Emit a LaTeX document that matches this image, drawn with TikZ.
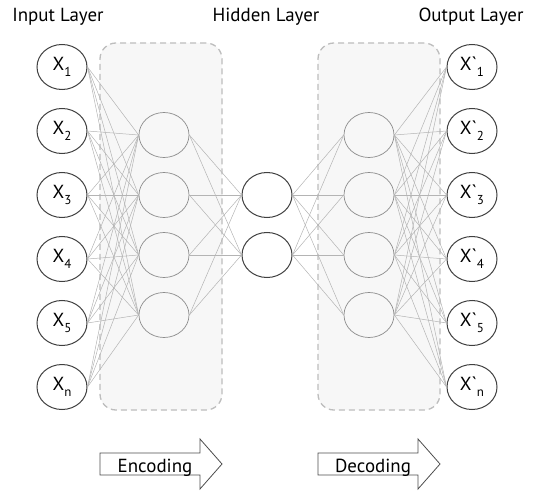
\documentclass[tikz,border=0pt]{standalone}
\usepackage{fontspec}
\setmainfont{PT Sans}
\usetikzlibrary{shapes.geometric}

\definecolor{linkgray}{HTML}{B4B4B4}
\definecolor{boxfill}{HTML}{F7F7F7}
\definecolor{boxline}{HTML}{BDBDBD}

\newcommand{\subidx}[1]{\raisebox{-6bp}{\fontsize{13}{13}\selectfont #1}}
\newcommand{\xin}[1]{X\subidx{#1}}
\newcommand{\xout}[1]{X\textasciigrave\subidx{#1}}

\begin{document}
\begin{tikzpicture}[
    x=1bp, y=-1bp,
    font=\fontsize{19}{22}\selectfont,
    unit/.style={draw=black!75, fill=white, ellipse, minimum width=50bp,
                 minimum height=45bp, inner sep=0pt, line width=1bp},
    inner/.style={draw=black!45, ellipse, minimum width=50bp,
                  minimum height=45bp, inner sep=0pt, line width=0.7bp},
    groupbox/.style={draw=boxline, fill=boxfill, dash pattern=on 6bp off 4bp,
                     line width=1.3bp, rounded corners=16bp,
                     minimum width=122bp, minimum height=367bp},
    link/.style={draw=linkgray, line width=0.5bp},
    flow/.style={draw=black!70, line width=0.8bp, line join=miter}
  ]
  \useasboundingbox (0,0) rectangle (534,491);

  % titles
  \node[anchor=base] (tin) at (58,22) {Input Layer};
  \node[anchor=base] (thid) at (266,22) {Hidden Layer};
  \node[anchor=base] (tout) at (471,22) {Output Layer};

  % dashed groups
  \node[groupbox] (encbox) at (161,226.5) {};
  \node[groupbox] (decbox) at (379,226.5) {};

  % input and output layers
  \foreach \i/\y/\s in {1/67/1, 2/131/2, 3/195/3, 4/259/4, 5/323/5, 6/387/n} {
    \node[unit] (in\i) at (62,\y) {\xin{\s}};
    \node[unit] (out\i) at (472,\y) {\xout{\s}};
  }

  % encoder / decoder layers
  \foreach \j/\y in {1/135, 2/195, 3/255, 4/315} {
    \node[inner] (enc\j) at (164,\y) {};
    \node[inner] (dec\j) at (369,\y) {};
  }

  % code layer
  \node[unit] (hid1) at (267,195) {};
  \node[unit] (hid2) at (267,255) {};

  % connections
  \foreach \i in {1,...,6}
    \foreach \j in {1,...,4} {
      \draw[link] (in\i.east) -- (enc\j.west);
      \draw[link] (dec\j.east) -- (out\i.west);
    }
  \foreach \j in {1,...,4}
    \foreach \k in {1,2} {
      \draw[link] (enc\j.east) -- (hid\k.west);
      \draw[link] (hid\k.east) -- (dec\j.west);
    }

  % direction arrows
  \foreach \x/\name/\txt in {100/encode/Encoding, 318/decode/Decoding} {
    \draw[flow] (\x,453) -- ++(100,0) -- ++(0,-14) -- ++(22,25)
      -- ++(-22,25) -- ++(0,-14) -- ++(-100,0) -- cycle;
    \node[anchor=base] (\name) at (\x+55,472) {\txt};
  }
\end{tikzpicture}
\end{document}
